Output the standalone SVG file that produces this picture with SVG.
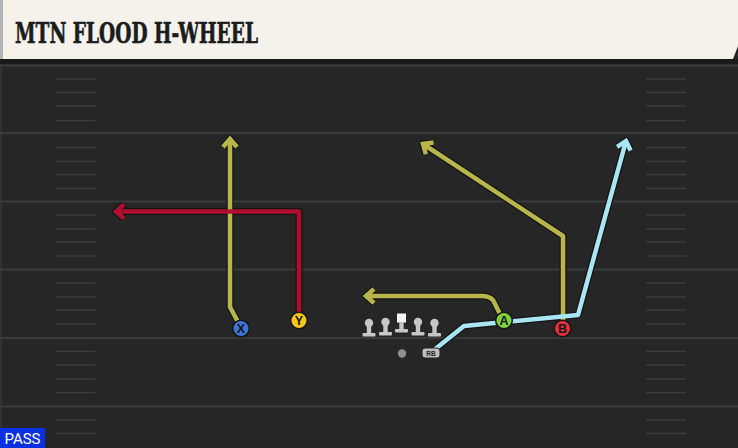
<svg xmlns="http://www.w3.org/2000/svg" width="738" height="448" viewBox="0 0 738 448">
<defs>
<style>
.yl{stroke:#3a3a3a;stroke-width:2;fill:none}
.hm{stroke:#3d3d3d;stroke-width:1.6;fill:none}
.ol{fill:none;stroke:#141414;stroke-width:7;stroke-linejoin:round;stroke-linecap:butt}
.rt{fill:none;stroke-width:4.5;stroke-linejoin:round;stroke-linecap:butt}
.olv{stroke:#b8b64a}
.red{stroke:#ae0f30}
.sky{stroke:#a8e6f4}
.lbl{font-family:"Liberation Sans",Arial,sans-serif;font-weight:bold;font-size:12.5px;fill:#161616;text-anchor:middle}
.pc{stroke:#151515;stroke-width:1.5}
.lm{fill:#c6c6c6}
</style>
<marker id="mOl" viewBox="-14 -12 18 24" refX="0" refY="0" markerWidth="18" markerHeight="24" markerUnits="userSpaceOnUse" orient="auto">
<path d="M-8,-7 L0,0 L-8,7" fill="none" stroke="#141414" stroke-width="7" stroke-linejoin="miter" stroke-miterlimit="4"/>
</marker>
<marker id="mOlv" viewBox="-14 -12 18 24" refX="0" refY="0" markerWidth="18" markerHeight="24" markerUnits="userSpaceOnUse" orient="auto">
<path d="M-8,-7 L0,0 L-8,7" fill="none" stroke="#b8b64a" stroke-width="4.5" stroke-linejoin="miter" stroke-miterlimit="4"/>
</marker>
<marker id="mRed" viewBox="-14 -12 18 24" refX="0" refY="0" markerWidth="18" markerHeight="24" markerUnits="userSpaceOnUse" orient="auto">
<path d="M-8,-7 L0,0 L-8,7" fill="none" stroke="#ae0f30" stroke-width="4.5" stroke-linejoin="miter" stroke-miterlimit="4"/>
</marker>
<marker id="mSky" viewBox="-14 -12 18 24" refX="0" refY="0" markerWidth="18" markerHeight="24" markerUnits="userSpaceOnUse" orient="auto">
<path d="M-8,-7 L0,0 L-8,7" fill="none" stroke="#a8e6f4" stroke-width="4.5" stroke-linejoin="miter" stroke-miterlimit="4"/>
</marker>
<g id="lineman">
<circle cx="0" cy="-5" r="4.2"/>
<rect x="-2.2" y="-3" width="4.4" height="9"/>
<rect x="-6.5" y="5" width="13" height="3.5" rx="1"/>
</g>
</defs>

<!-- field -->
<rect x="0" y="0" width="738" height="448" fill="#262626"/>
<rect x="0" y="59" width="738" height="5" fill="#1a1a1a"/>
<rect x="0" y="64" width="2" height="384" fill="#323232"/>
<g id="field">
<line class="yl" x1="0" y1="65.5" x2="738" y2="65.5"/>
<line class="yl" x1="0" y1="133" x2="738" y2="133"/>
<line class="yl" x1="0" y1="201.5" x2="738" y2="201.5"/>
<line class="yl" x1="0" y1="269.5" x2="738" y2="269.5"/>
<line class="yl" x1="0" y1="338" x2="738" y2="338"/>
<line class="yl" x1="0" y1="406.5" x2="738" y2="406.5"/>
<path class="hm" d="M56,79H95M56,92.5H95M56,106H95M56,120.5H95M56,147.5H95M56,161.5H95M56,174.5H95M56,188.5H95M56,215H95M56,229H95M56,242H95M56,256H95M56,283H95M56,297H95M56,310H95M56,324H95M56,351.5H95M56,365H95M56,379H95M56,392.5H95M56,420H95M56,433.5H95"/>
<path class="hm" d="M646,79H686M646,92.5H686M646,106H686M646,120.5H686M646,147.5H686M646,161.5H686M646,174.5H686M646,188.5H686M646,215H686M646,229H686M646,242H686M646,256H686M646,283H686M646,297H686M646,310H686M646,324H686M646,351.5H686M646,365H686M646,379H686M646,392.5H686M646,420H686M646,433.5H686"/>
</g>

<!-- header -->
<g id="header">
<polygon points="0,0 738,0 738,46 733,59 0,59" fill="#f5f2ec"/>
<rect x="0" y="0" width="3" height="59" fill="#b4b4b2"/>
<text x="15" y="42.5" font-family="'DejaVu Serif Condensed','DejaVu Serif',serif" font-weight="bold" font-size="28" fill="#1c1c1c" stroke="#1c1c1c" stroke-width="0.6" textLength="243" lengthAdjust="spacingAndGlyphs">MTN FLOOD H-WHEEL</text>
</g>

<!-- connectors -->
<g id="connectors">
<path class="ol" marker-end="url(#mOl)" d="M238,322 L230,307 L230,139"/>
<path class="ol" marker-end="url(#mOl)" d="M299,313 L299,211.5 L116,211.5"/>
<path class="ol" marker-end="url(#mOl)" d="M500,314 L493,300 Q489,296 482,296 L366,296"/>
<path class="ol" marker-end="url(#mOl)" d="M563,321 L563,236 L423,144"/>
<path class="ol" marker-end="url(#mOl)" d="M434,350 L464,326 L578,315 L626,141"/>

<path class="rt olv" marker-end="url(#mOlv)" d="M238,322 L230,307 L230,139"/>
<path class="rt red" marker-end="url(#mRed)" d="M299,313 L299,211.5 L116,211.5"/>
<path class="rt olv" marker-end="url(#mOlv)" d="M500,314 L493,300 Q489,296 482,296 L366,296"/>
<path class="rt olv" marker-end="url(#mOlv)" d="M563,321 L563,236 L423,144"/>
<path class="rt sky" marker-end="url(#mSky)" d="M434,350 L464,326 L578,315 L626,141"/>
</g>

<!-- offensive line -->
<g id="oline" class="lm">
<use href="#lineman" x="369" y="328"/>
<use href="#lineman" x="385.5" y="327"/>
<g id="center">
<rect x="397" y="313.5" width="9" height="9" fill="#f4f4f4"/>
<rect x="399.3" y="322" width="4.4" height="7" fill="#c6c6c6"/>
<rect x="395" y="329" width="13" height="3.5" rx="1" fill="#c6c6c6"/>
</g>
<use href="#lineman" x="418" y="327"/>
<use href="#lineman" x="434.5" y="328"/>
</g>

<g id="qb">
<circle cx="402" cy="353.5" r="4.2" fill="#8f8f8f"/>
</g>

<g id="rb">
<rect x="422" y="348" width="18" height="10" rx="3" fill="#bdbdbd" stroke="#222" stroke-width="1"/>
<text x="431" y="355.6" font-family="'Liberation Sans',Arial,sans-serif" font-weight="bold" font-size="6.5" fill="#222" text-anchor="middle">RB</text>
</g>

<g id="X">
<circle class="pc" cx="241" cy="328.5" r="8.3" fill="#3d74d6"/>
<text class="lbl" x="241" y="333">X</text>
</g>
<g id="Y">
<circle class="pc" cx="299" cy="320.5" r="8.3" fill="#f5c51c"/>
<text class="lbl" x="299" y="325">Y</text>
</g>
<g id="A">
<circle class="pc" cx="504" cy="320.5" r="8.3" fill="#7fd03c"/>
<text class="lbl" x="504" y="325">A</text>
</g>
<g id="B">
<circle class="pc" cx="562.5" cy="328.5" r="8.3" fill="#e2323c"/>
<text class="lbl" x="562.5" y="333">B</text>
</g>

<g id="pass">
<rect x="0" y="428" width="45" height="20" fill="#0b2fe2"/>
<text x="22.5" y="444" font-family="Roboto,'Liberation Sans',Arial,sans-serif" font-size="15" fill="#ffffff" text-anchor="middle">PASS</text>
</g>
</svg>
